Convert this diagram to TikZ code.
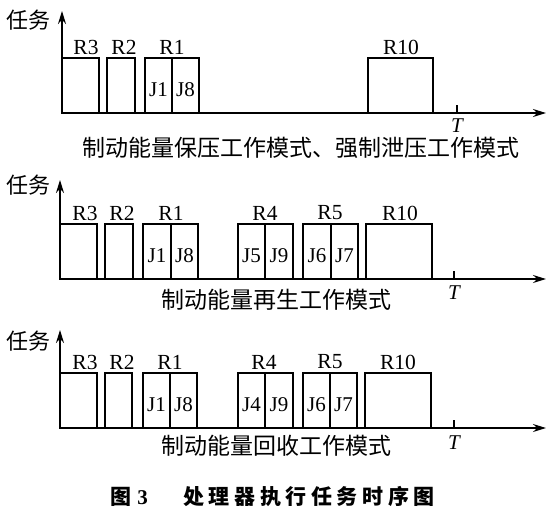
\documentclass[tikz,border=0pt]{standalone}
\usepackage{fontspec}
\setmainfont{Liberation Serif}
\newfontfamily\cjk{Noto Sans CJK SC}
\newfontfamily\cjktitle[LetterSpace=22]{Noto Sans CJK SC}
\usetikzlibrary{arrows.meta}
\tikzset{
  ax/.style={line width=1.6pt,-{Stealth[length=13pt,width=8pt]}},
  tb/.style={draw,line width=1.6pt,minimum height=55pt,inner sep=0pt,outer sep=0pt,anchor=south west},
  ticksty/.style={line width=1.3pt},
  rl/.style={font=\fontsize{21.5}{21.5}\selectfont,inner sep=0pt},
  jl/.style={font=\fontsize{21}{21}\selectfont,inner sep=0pt},
  tl/.style={font=\itshape\fontsize{21}{21}\selectfont,inner sep=0pt},
  captext/.style={font=\cjk\fontsize{23}{23}\selectfont,inner sep=0pt},
  ylab/.style={font=\cjk\fontsize{22}{22}\selectfont,inner sep=0pt},
}
\newcommand\taskbox[4]{\node[tb,minimum width={(#3-#2)*1pt}] (#1) at (#2,#4) {};}
\begin{document}
\begin{tikzpicture}[x=1pt,y=-1pt]
\useasboundingbox[fill=white] (0,0) rectangle (555,515);

% ---------- panel 1 ----------
\coordinate (o1) at (62,113);
\coordinate (ya1) at (62,11);
\coordinate (xa1) at (546,113);
\taskbox{a3}{62}{99}{113}
\taskbox{a2}{107}{135}{113}
\taskbox{a1}{145}{172}{113}
\taskbox{a8}{172}{199}{113}
\taskbox{a10}{368}{433}{113}
\draw[ax] (o1) -- (ya1);
\draw[ax] (o1) -- (xa1);
\coordinate (t1) at (457,113);
\coordinate (t1u) at (457,105);
\draw[ticksty] (t1) -- (t1u);
\node[ylab] (ylab1) at (28,20) {任务};
\node[rl] (la3) at (86,47) {R3};
\node[rl] (la2) at (124,47) {R2};
\node[rl] (la1) at (172,47) {R1};
\node[rl] (la10) at (401,47) {R10};
\node[jl] (ja1) at ([yshift=-4pt]a1.center) {J1};
\node[jl] (ja8) at ([yshift=-4pt]a8.center) {J8};
\node[tl] (tla) at (457,126) {T};
\node[captext] (cap1) at (301,148) {制动能量保压工作模式、强制泄压工作模式};

% ---------- panel 2 ----------
\coordinate (o2) at (60,279);
\coordinate (ya2) at (60,180);
\coordinate (xa2) at (546,279);
\taskbox{b3}{60}{97}{279}
\taskbox{b2}{105}{133}{279}
\taskbox{b1}{143}{171}{279}
\taskbox{b8}{171}{198}{279}
\taskbox{b5}{238}{265}{279}
\taskbox{b9}{265}{293}{279}
\taskbox{b6}{303}{331}{279}
\taskbox{b7}{331}{358}{279}
\taskbox{b10}{366}{432}{279}
\draw[ax] (o2) -- (ya2);
\draw[ax] (o2) -- (xa2);
\coordinate (t2) at (454,279);
\coordinate (t2u) at (454,271);
\draw[ticksty] (t2) -- (t2u);
\node[ylab] (ylab2) at (28,185) {任务};
\node[rl] (lb3) at (85,213) {R3};
\node[rl] (lb2) at (122,213) {R2};
\node[rl] (lb1) at (171,213) {R1};
\node[rl] (lb4) at (265,213) {R4};
\node[rl] (lb5) at (330,213) {R5};
\node[rl] (lb10) at (400,213) {R10};
\node[jl] (jb1) at ([yshift=-4pt]b1.center) {J1};
\node[jl] (jb8) at ([yshift=-4pt]b8.center) {J8};
\node[jl] (jb5) at ([yshift=-4pt]b5.center) {J5};
\node[jl] (jb9) at ([yshift=-4pt]b9.center) {J9};
\node[jl] (jb6) at ([yshift=-4pt]b6.center) {J6};
\node[jl] (jb7) at ([yshift=-4pt]b7.center) {J7};
\node[tl] (tlb) at (454,293) {T};
\node[captext] (cap2) at (276,300) {制动能量再生工作模式};

% ---------- panel 3 ----------
\coordinate (o3) at (60,428);
\coordinate (ya3) at (60,330);
\coordinate (xa3) at (546,428);
\taskbox{c3}{60}{97}{428}
\taskbox{c2}{105}{132}{428}
\taskbox{c1}{143}{170}{428}
\taskbox{c8}{170}{197}{428}
\taskbox{c4}{238}{265}{428}
\taskbox{c9}{265}{293}{428}
\taskbox{c6}{303}{330}{428}
\taskbox{c7}{330}{357}{428}
\taskbox{c10}{365}{431}{428}
\draw[ax] (o3) -- (ya3);
\draw[ax] (o3) -- (xa3);
\coordinate (t3) at (454,428);
\coordinate (t3u) at (454,420);
\draw[ticksty] (t3) -- (t3u);
\node[ylab] (ylab3) at (28,341) {任务};
\node[rl] (lc3) at (85,362) {R3};
\node[rl] (lc2) at (122,362) {R2};
\node[rl] (lc1) at (170,362) {R1};
\node[rl] (lc4) at (264,362) {R4};
\node[rl] (lc5) at (330,362) {R5};
\node[rl] (lc10) at (398,362) {R10};
\node[jl] (jc1) at ([yshift=-4pt]c1.center) {J1};
\node[jl] (jc8) at ([yshift=-4pt]c8.center) {J8};
\node[jl] (jc4) at ([yshift=-4pt]c4.center) {J4};
\node[jl] (jc9) at ([yshift=-4pt]c9.center) {J9};
\node[jl] (jc6) at ([yshift=-4pt]c6.center) {J6};
\node[jl] (jc7) at ([yshift=-4pt]c7.center) {J7};
\node[tl] (tlc) at (454,443) {T};
\node[captext] (cap3) at (276,446) {制动能量回收工作模式};

% ---------- title ----------
\node[font=\cjk\bfseries\fontsize{21}{21}\selectfont,inner sep=0pt] (tit1) at (129,497) {图\hspace{6pt}{\rmfamily\bfseries 3}};
\node[font=\cjktitle\bfseries\fontsize{21}{21}\selectfont,inner sep=0pt] (tit2) at (309,497) {处理器执行任务时序图};
\end{tikzpicture}
\end{document}
